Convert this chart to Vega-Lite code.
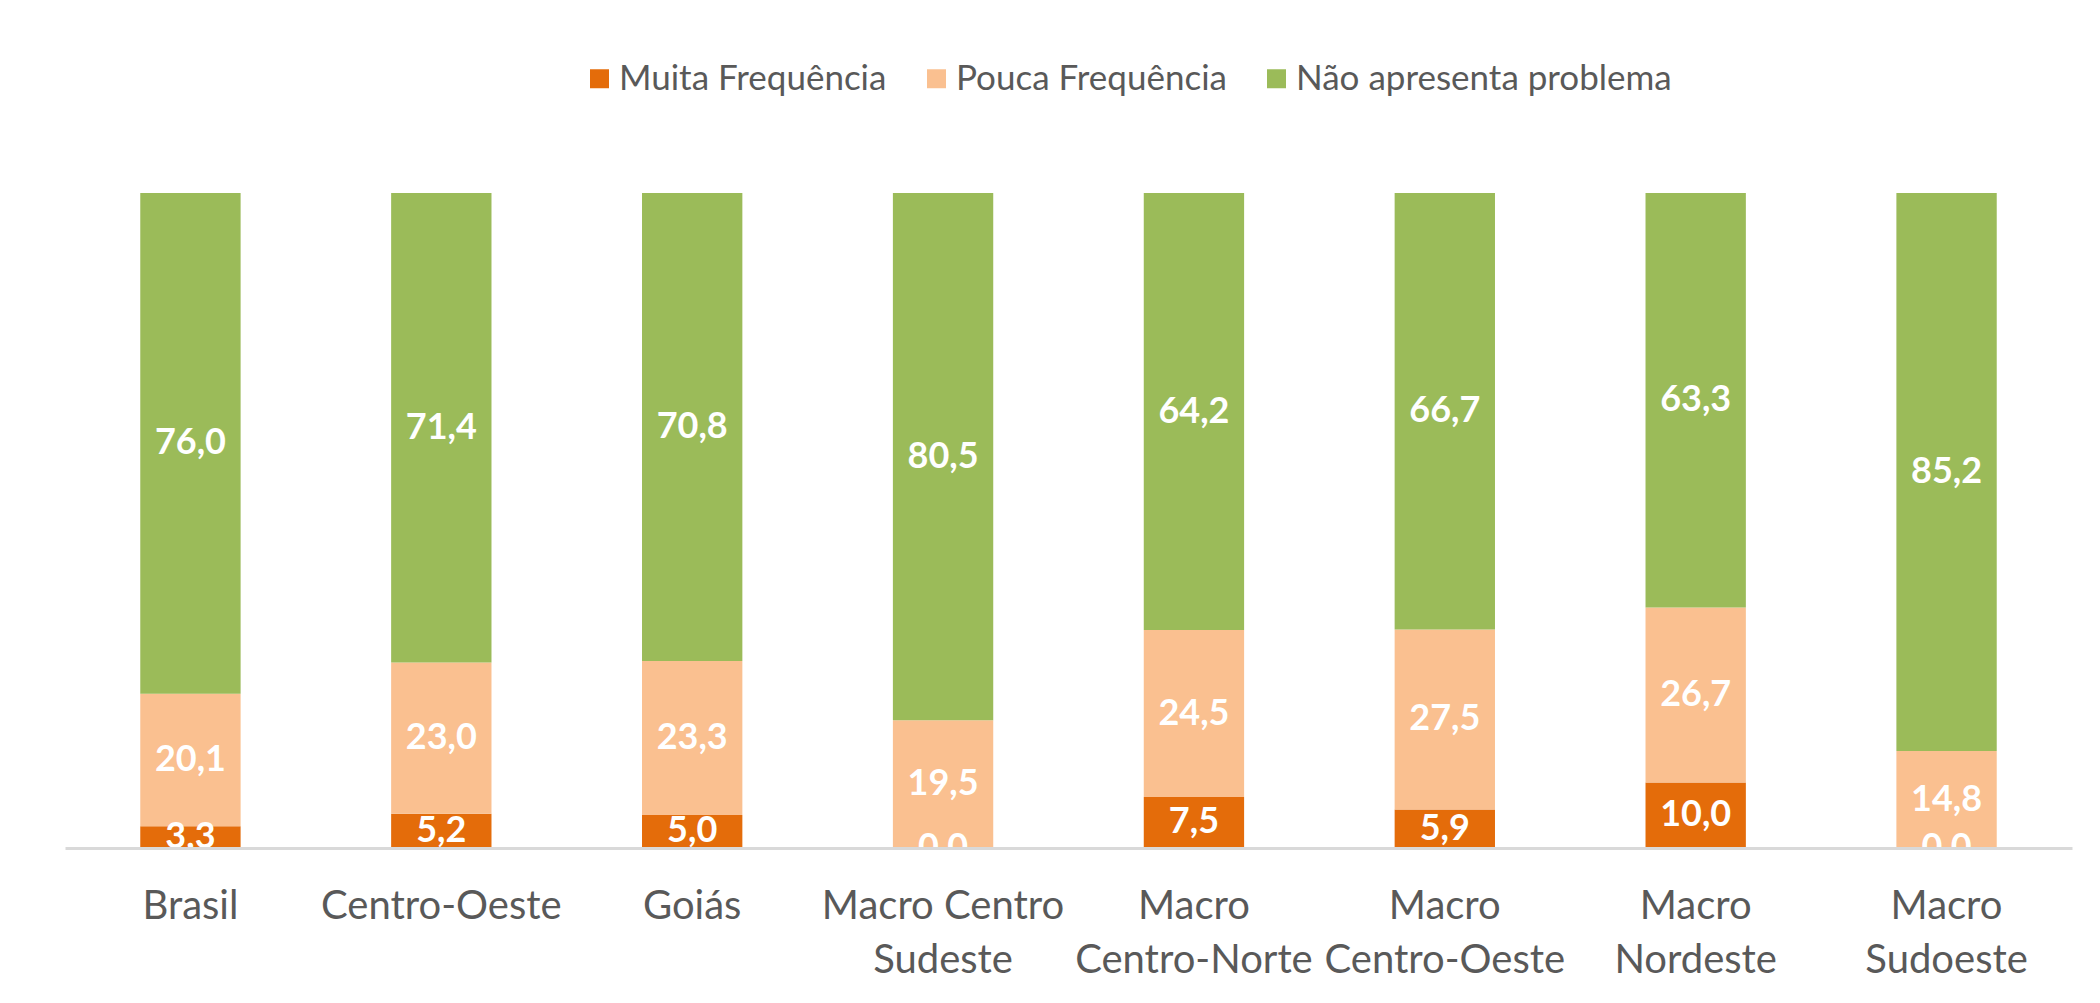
{
  "$schema": "https://vega.github.io/schema/vega-lite/v6.json",
  "width": 2007,
  "height": 655,
  "autosize": {"type": "none"},
  "padding": {"left": 65, "top": 193, "right": 28, "bottom": 155},
  "background": "white",
  "config": {
    "view": {"stroke": null},
    "font": "Lato",
    "locale": {"number": {"decimal": ",", "thousands": ".", "grouping": [3], "currency": ["R$", ""]}}
  },
  "data": {
    "values": [
      {"regiao": "Brasil", "serie": "Muita Frequência", "v": 3.3},
      {"regiao": "Brasil", "serie": "Pouca Frequência", "v": 20.1},
      {"regiao": "Brasil", "serie": "Não apresenta problema", "v": 76.0},
      {"regiao": "Centro-Oeste", "serie": "Muita Frequência", "v": 5.2},
      {"regiao": "Centro-Oeste", "serie": "Pouca Frequência", "v": 23.0},
      {"regiao": "Centro-Oeste", "serie": "Não apresenta problema", "v": 71.4},
      {"regiao": "Goiás", "serie": "Muita Frequência", "v": 5.0},
      {"regiao": "Goiás", "serie": "Pouca Frequência", "v": 23.3},
      {"regiao": "Goiás", "serie": "Não apresenta problema", "v": 70.8},
      {"regiao": "Macro Centro Sudeste", "serie": "Muita Frequência", "v": 0.0},
      {"regiao": "Macro Centro Sudeste", "serie": "Pouca Frequência", "v": 19.5},
      {"regiao": "Macro Centro Sudeste", "serie": "Não apresenta problema", "v": 80.5},
      {"regiao": "Macro Centro-Norte", "serie": "Muita Frequência", "v": 7.5},
      {"regiao": "Macro Centro-Norte", "serie": "Pouca Frequência", "v": 24.5},
      {"regiao": "Macro Centro-Norte", "serie": "Não apresenta problema", "v": 64.2},
      {"regiao": "Macro Centro-Oeste", "serie": "Muita Frequência", "v": 5.9},
      {"regiao": "Macro Centro-Oeste", "serie": "Pouca Frequência", "v": 27.5},
      {"regiao": "Macro Centro-Oeste", "serie": "Não apresenta problema", "v": 66.7},
      {"regiao": "Macro Nordeste", "serie": "Muita Frequência", "v": 10.0},
      {"regiao": "Macro Nordeste", "serie": "Pouca Frequência", "v": 26.7},
      {"regiao": "Macro Nordeste", "serie": "Não apresenta problema", "v": 63.3},
      {"regiao": "Macro Sudoeste", "serie": "Muita Frequência", "v": 0.0},
      {"regiao": "Macro Sudoeste", "serie": "Pouca Frequência", "v": 14.8},
      {"regiao": "Macro Sudoeste", "serie": "Não apresenta problema", "v": 85.2}
    ]
  },
  "transform": [
    {"calculate": "indexof(['Muita Frequência','Pouca Frequência','Não apresenta problema'], datum.serie)", "as": "ord"},
    {"stack": "v", "groupby": ["regiao"], "sort": [{"field": "ord", "order": "ascending"}], "offset": "normalize", "as": ["y0", "y1"]},
    {"calculate": "(datum.y0 + datum.y1) / 2", "as": "ymid"}
  ],
  "encoding": {
    "x": {
      "field": "regiao",
      "type": "nominal",
      "sort": null,
      "scale": {"paddingInner": 0.6, "paddingOuter": 0.3},
      "axis": {
        "title": null,
        "labelAngle": 0,
        "labelFont": "Lato",
        "labelFontSize": 40,
        "labelColor": "#595959",
        "labelPadding": 38,
        "labelLineHeight": 54,
        "labelBaseline": "top",
        "labelLimit": 400,
        "ticks": false,
        "domainColor": "#D9D9D9",
        "domainWidth": 3,
        "zindex": 1,
        "labelExpr": "datum.label == 'Macro Centro Sudeste' ? ['Macro Centro', 'Sudeste'] : (indexof(datum.label, 'Macro ') == 0 ? ['Macro', slice(datum.label, 6)] : datum.label)"
      }
    }
  },
  "layer": [
    {
      "mark": {"type": "bar"},
      "encoding": {
        "y": {"field": "y0", "type": "quantitative", "scale": {"domain": [0, 1], "nice": false}, "axis": null},
        "y2": {"field": "y1"},
        "color": {
          "field": "serie",
          "type": "nominal",
          "scale": {
            "domain": ["Muita Frequência", "Pouca Frequência", "Não apresenta problema"],
            "range": ["#E46C0A", "#FAC090", "#9BBB59"]
          },
          "legend": {
            "title": null,
            "orient": "none",
            "direction": "horizontal",
            "legendX": 517,
            "legendY": -132,
            "symbolType": "square",
            "symbolSize": 361,
            "symbolStrokeWidth": 0,
            "labelFont": "Lato",
            "labelFontSize": 35,
            "labelColor": "#595959",
            "labelOffset": 2,
            "columnPadding": 32,
            "labelLimit": 500
          }
        }
      }
    },
    {
      "mark": {"type": "text", "color": "white", "font": "Lato", "fontWeight": "bold", "fontSize": 36, "align": "center", "baseline": "middle"},
      "encoding": {
        "y": {"field": "ymid", "type": "quantitative", "scale": {"domain": [0, 1], "nice": false}, "axis": null},
        "text": {"field": "v", "type": "quantitative", "format": ".1f"}
      }
    }
  ]
}
